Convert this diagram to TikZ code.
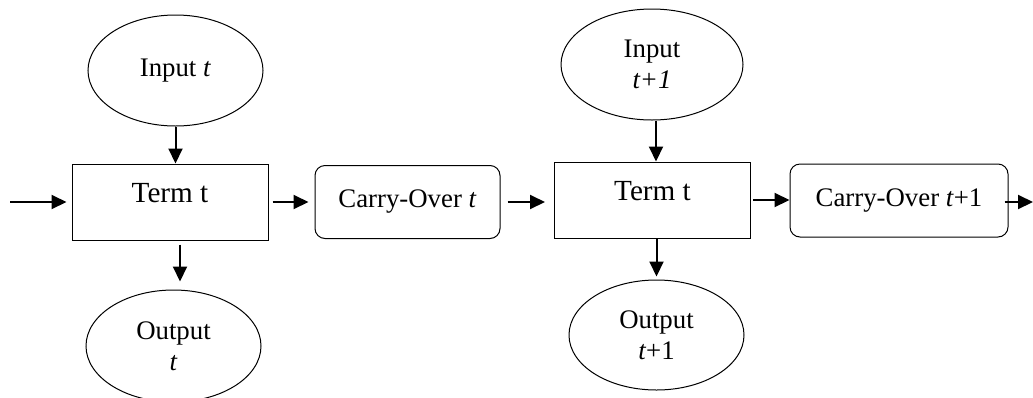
\documentclass[tikz,border=0pt]{standalone}
\usepackage{fontspec}
\setmainfont{Liberation Serif}
\usetikzlibrary{shapes.geometric,arrows.meta}

\begin{document}
\begin{tikzpicture}[x=0.5pt,y=-0.5pt,
        io/.style={draw,ellipse,line width=0.5pt,inner sep=0pt,align=center,
            font=\fontsize{13.4}{15.5}\selectfont},
        term/.style={draw,rectangle,line width=0.5pt,minimum width=98pt,minimum height=38pt,
            text height=5pt,text depth=5pt,font=\fontsize{14.6}{16}\selectfont},
        carry/.style={draw,rectangle,rounded corners=5pt,line width=0.5pt,minimum height=36.5pt,
            font=\fontsize{13.4}{15}\selectfont},
        arr/.style={-{Triangle[length=7.5pt,width=7pt]},line width=1pt}]
        \useasboundingbox (0,0) rectangle (1033,397);
        \node[io,minimum width=87.5pt,minimum height=55.5pt] (in1) at (175.5,70.5) {Input \textit{t}};
        \node[io,minimum width=91pt,minimum height=55.5pt] (in2) at (652,64.5) {Input\\\textit{t+1}};
        \node[term] (t1) at (170,202) {Term t};
        \node[term] (t2) at (652.5,200) {Term t};
        \node[carry,minimum width=92.5pt] (c1) at (407.5,202) {Carry-Over \textit{t}};
        \node[carry,minimum width=109pt] (c2) at (899,200.5) {Carry-Over \textit{t}+1};
        \node[io,minimum width=87.5pt,minimum height=56pt] (o1) at (173.5,346) {Output\\\textit{t}};
        \node[io,minimum width=87.5pt,minimum height=55pt] (o2) at (656.5,335) {Output\\\textit{t}+1};
        \coordinate (start) at (10,202);
        \coordinate (end) at (1033,202);
        \draw[arr,shorten >=2.5pt] (start) -- (start -| t1.west);
        \draw[arr,shorten <=2pt,shorten >=3pt] (t1.east) -- (t1.east -| c1.west);
        \draw[arr,shorten <=3.5pt,shorten >=4.5pt] (c1.east) -- (c1.east -| t2.west);
        \draw[arr,shorten <=1pt] (t2.east) -- (t2.east -| c2.west);
        \draw[arr,shorten <=-2pt] (c2.east |- end) -- (end);
        \draw[arr] (in1.south) -- (in1.south |- t1.north);
        \draw[arr] ([xshift=2pt]in2.south) -- ([xshift=2pt]in2.south |- t2.north);
        \draw[arr,shorten <=2pt,shorten >=4pt] ([xshift=5pt]t1.south) -- ([xshift=5pt]t1.south |- o1.north);
        \draw[arr,shorten >=1.5pt] (o2.north |- t2.south) -- (o2.north);
    \end{tikzpicture}
\end{document}
